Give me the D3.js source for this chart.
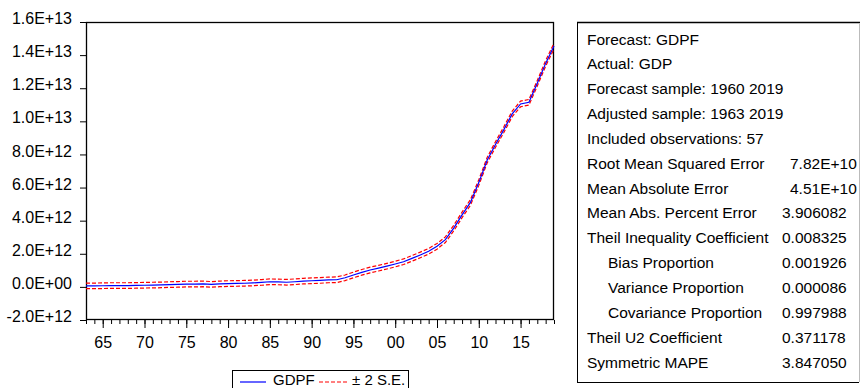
<!DOCTYPE html>
<html>
<head>
<meta charset="utf-8">
<script src="https://cdn.jsdelivr.net/npm/d3@7"></script>
<style>
  html, body { margin: 0; padding: 0; background: #fff; }
  svg { display: block; }
  text { font-family: "Liberation Sans", Arial, sans-serif; fill: #000; }
</style>
</head>
<body>
<svg id="chart" width="860" height="388"></svg>
<script>
// ---- data ----
const years = d3.range(1963, 2020);
const gdpf = [
  0.06, 0.06, 0.07, 0.08, 0.08, 0.08, 0.09, 0.10, 0.11, 0.12,
  0.14, 0.15, 0.17, 0.17, 0.18, 0.15, 0.18, 0.20, 0.21, 0.22,
  0.24, 0.27, 0.31, 0.30, 0.28, 0.31, 0.35, 0.37, 0.39, 0.42,
  0.43, 0.55, 0.72, 0.88, 1.02, 1.13, 1.25, 1.38, 1.52, 1.72,
  1.93, 2.15, 2.45, 2.85, 3.55, 4.35, 5.10, 6.30, 7.65, 8.60,
  9.50, 10.45, 11.05, 11.15, 12.30, 13.50, 14.55
].map(v => v * 1e12);
const se2 = [
  0.17, 0.17, 0.17, 0.17, 0.17, 0.17, 0.17, 0.17, 0.17, 0.17,
  0.17, 0.17, 0.17, 0.17, 0.17, 0.17, 0.17, 0.17, 0.17, 0.17,
  0.17, 0.17, 0.17, 0.17, 0.17, 0.17, 0.17, 0.17, 0.17, 0.17,
  0.17, 0.17, 0.17, 0.17, 0.17, 0.17, 0.17, 0.17, 0.17, 0.17,
  0.17, 0.17, 0.17, 0.17, 0.17, 0.17, 0.17, 0.17, 0.17, 0.17,
  0.17, 0.17, 0.17, 0.17, 0.17, 0.17, 0.17
].map(v => v * 1e12);
const yTicks = [-2e12, 0, 2e12, 4e12, 6e12, 8e12, 1e13, 1.2e13, 1.4e13, 1.6e13];
const xMajorTicks = [1965, 1970, 1975, 1980, 1985, 1990, 1995, 2000, 2005, 2010, 2015];
const legendLabels = ["GDPF", "\u00b1 2 S.E."];
const statsLabels = [
  "Forecast: GDPF", "Actual: GDP", "Forecast sample: 1960 2019",
  "Adjusted sample: 1963 2019", "Included observations: 57",
  "Root Mean Squared Error", "Mean Absolute Error", "Mean Abs. Percent Error",
  "Theil Inequality Coefficient", "Bias Proportion", "Variance Proportion",
  "Covariance Proportion", "Theil U2 Coefficient", "Symmetric MAPE"
];
const statsValues = [
  "", "", "", "", "", "7.82E+10", "4.51E+10", "3.906082",
  "0.008325", "0.001926", "0.000086", "0.997988", "0.371178", "3.847050"
];
const statsIndent = [0,0,0,0,0,0,0,0,0,1,1,1,0,0];

// ---- layout ----
const svg = d3.select("#chart");
const L = 86, R = 554, T = 22, B = 320;
const FS = "16px";
const x = d3.scaleLinear().domain([1963, 2019]).range([L, R]);
const y = d3.scaleLinear().domain([-2e12, 1.6e13]).range([B, T]);

function sci(v) {
  if (v === 0) return "0.0E+00";
  const e = Math.floor(Math.log10(Math.abs(v)) + 1e-9);
  const m = v / Math.pow(10, e);
  return m.toFixed(1) + "E+" + String(e).padStart(2, "0");
}

// y axis
const yAxis = d3.axisLeft(y).tickValues(yTicks).tickSize(6).tickSizeOuter(0).tickFormat(sci);
const gy = svg.append("g").attr("transform", `translate(${L},0)`).call(yAxis);
gy.select(".domain").remove();
gy.selectAll(".tick line").attr("stroke", "#000");
gy.selectAll(".tick text")
  .attr("x", -14).attr("dy", "0.1em")
  .style("font-family", '"Liberation Sans", Arial, sans-serif')
  .style("font-size", FS).attr("fill", "#000");

// x axis: minor ticks
const gxMinor = svg.append("g").attr("transform", `translate(0,${B})`)
  .call(d3.axisBottom(x).tickValues(years).tickSize(4).tickFormat(""));
gxMinor.select(".domain").remove();
gxMinor.selectAll(".tick line").attr("stroke", "#000");
// x axis: major ticks
const gx = svg.append("g").attr("transform", `translate(0,${B})`)
  .call(d3.axisBottom(x).tickValues(xMajorTicks).tickSize(8)
    .tickFormat(d => String(d % 100).padStart(2, "0")));
gx.select(".domain").remove();
gx.selectAll(".tick line").attr("stroke", "#000");
gx.selectAll(".tick text")
  .attr("y", 28).attr("dy", "0")
  .style("font-family", '"Liberation Sans", Arial, sans-serif')
  .style("font-size", FS).attr("fill", "#000");

// frame
svg.append("rect").attr("x", L + 0.5).attr("y", T + 0.5)
  .attr("width", R - L - 1).attr("height", B - T - 1)
  .attr("fill", "none").attr("stroke", "#000").attr("stroke-width", 1.3);

// lines
const pts = years.map((yr, i) => ({ yr, f: gdpf[i], s: se2[i] }));
const lineF = d3.line().x(d => x(d.yr)).y(d => y(d.f));
const lineU = d3.line().x(d => x(d.yr)).y(d => y(d.f + d.s));
const lineD = d3.line().x(d => x(d.yr)).y(d => y(d.f - d.s));
const plot = svg.append("g");
[lineU, lineD].forEach(fn => {
  plot.append("path").datum(pts).attr("d", fn).attr("fill", "none")
    .attr("stroke", "#ff0000").attr("stroke-width", 1.2)
    .attr("stroke-dasharray", "4,2");
});
plot.append("path").datum(pts).attr("d", lineF).attr("fill", "none")
  .attr("stroke", "#0000ff").attr("stroke-width", 1.2);

// legend
const lg = svg.append("g");
lg.append("rect").attr("x", 232.5).attr("y", 370.5).attr("width", 176).attr("height", 30)
  .attr("fill", "#fff").attr("stroke", "#000").attr("stroke-width", 1);
lg.append("line").attr("x1", 240).attr("x2", 266).attr("y1", 382).attr("y2", 382)
  .attr("stroke", "#0000ff").attr("stroke-width", 1.2);
lg.append("text").attr("x", 273).attr("y", 384.5).style("font-size", "15px").text(legendLabels[0]);
lg.append("line").attr("x1", 319).attr("x2", 347).attr("y1", 382).attr("y2", 382)
  .attr("stroke", "#ff0000").attr("stroke-width", 1.2).attr("stroke-dasharray", "4,2");
lg.append("text").attr("x", 352).attr("y", 384.5).style("font-size", "15px").text(legendLabels[1]);

// stats box
const sb = svg.append("g");
sb.append("line").attr("x1", 577.5).attr("x2", 577.5).attr("y1", 22).attr("y2", 382.5).attr("stroke", "#000");
sb.append("line").attr("x1", 577).attr("x2", 860).attr("y1", 22.5).attr("y2", 22.5).attr("stroke", "#000").attr("stroke-width", 1.3);
sb.append("line").attr("x1", 577).attr("x2", 859).attr("y1", 382.5).attr("y2", 382.5).attr("stroke", "#000");
sb.append("line").attr("x1", 859.5).attr("x2", 859.5).attr("y1", 23).attr("y2", 382).attr("stroke", "#bbb");
const rowY = i => 39 + i * 24.85 + 5.5;
statsLabels.forEach((lab, i) => {
  sb.append("text").attr("x", statsIndent[i] ? 608 : 587).attr("y", rowY(i))
    .style("font-size", "15.5px").text(lab);
  if (statsValues[i]) {
    sb.append("text").attr("x", statsValues[i].includes("E") ? 790 : 782).attr("y", rowY(i))
      .style("font-size", "15.5px").text(statsValues[i]);
  }
});
</script>
</body>
</html>
